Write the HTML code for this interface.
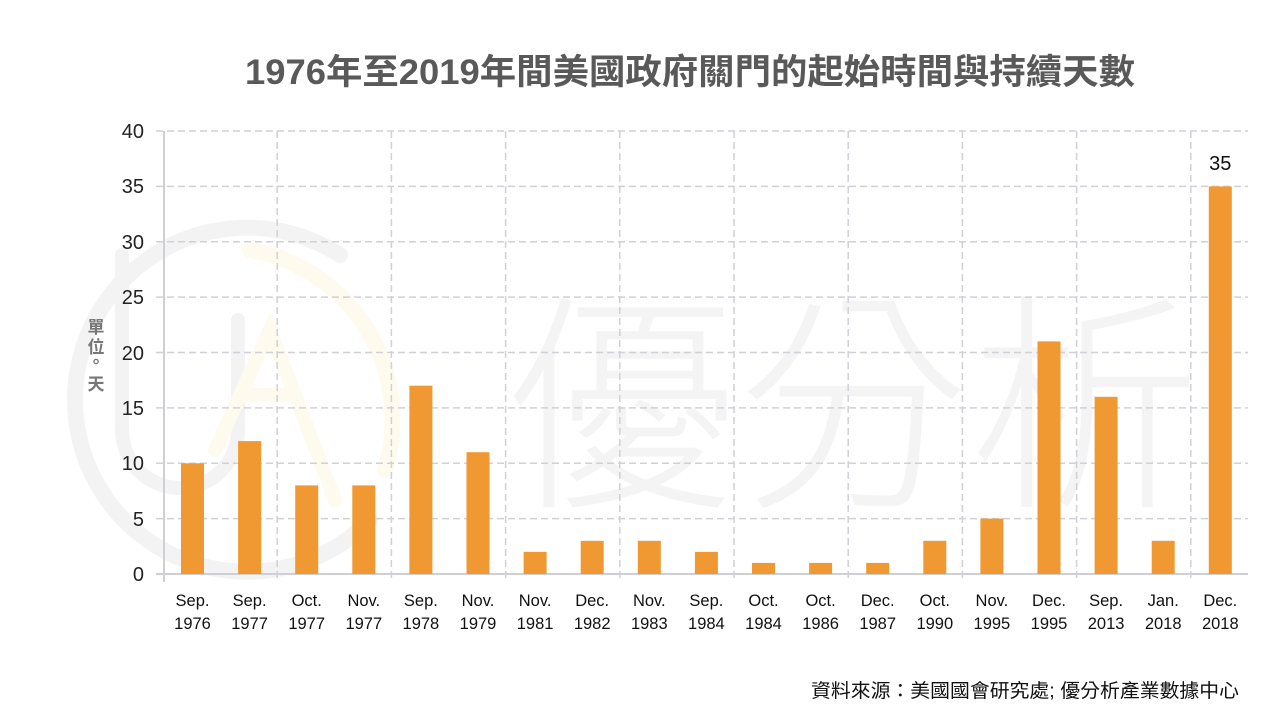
<!DOCTYPE html>
<html><head><meta charset="utf-8"><style>
body{margin:0;background:#fff;}
svg{display:block;font-family:"Liberation Sans","Noto Sans CJK TC",sans-serif;}
</style></head><body>
<svg width="1286" height="716" viewBox="0 0 1286 716" xmlns="http://www.w3.org/2000/svg">
<rect width="1286" height="716" fill="#fff"/>
<g>
<path d="M340 255 A172 172 0 1 0 370 520" fill="none" stroke="#f3f3f3" stroke-width="16" stroke-linecap="round"/>
<path d="M250 250 A172 172 0 0 1 385 470" fill="none" stroke="#fffaee" stroke-width="16" stroke-linecap="round"/>
<path d="M122 255 L122 430 A58 58 0 0 0 238 430 L238 320" fill="none" stroke="#f3f3f3" stroke-width="14" stroke-linecap="round"/>
<path d="M215 450 L270 330 L335 500 M240 395 L290 395" fill="none" stroke="#fffaee" stroke-width="14" stroke-linecap="round"/>
<text x="505" y="490" font-size="232" fill="#f4f4f4" font-family="Noto Sans CJK TC, sans-serif" font-weight="300">優分析</text>
</g>
<text x="690" y="84" text-anchor="middle" font-size="35" font-weight="bold" fill="#595959" textLength="890" lengthAdjust="spacingAndGlyphs" font-family="Liberation Sans, Noto Sans CJK TC, sans-serif">1976年至2019年間美國政府關門的起始時間與持續天數</text>
<g stroke="#d0d0d6" stroke-width="1.5" stroke-dasharray="7,4">
<line x1="156" y1="131" x2="1248" y2="131"/>
<line x1="156" y1="186.4" x2="1248" y2="186.4"/>
<line x1="156" y1="241.8" x2="1248" y2="241.8"/>
<line x1="156" y1="297.1" x2="1248" y2="297.1"/>
<line x1="156" y1="352.5" x2="1248" y2="352.5"/>
<line x1="156" y1="407.9" x2="1248" y2="407.9"/>
<line x1="156" y1="463.3" x2="1248" y2="463.3"/>
<line x1="156" y1="518.6" x2="1248" y2="518.6"/>
<line x1="277.2" y1="131" x2="277.2" y2="582"/>
<line x1="391.4" y1="131" x2="391.4" y2="582"/>
<line x1="505.6" y1="131" x2="505.6" y2="582"/>
<line x1="619.8" y1="131" x2="619.8" y2="582"/>
<line x1="734" y1="131" x2="734" y2="582"/>
<line x1="848.2" y1="131" x2="848.2" y2="582"/>
<line x1="962.4" y1="131" x2="962.4" y2="582"/>
<line x1="1076.6" y1="131" x2="1076.6" y2="582"/>
<line x1="1190.8" y1="131" x2="1190.8" y2="582"/>
</g>
<g stroke="#cfcfd6" stroke-width="2">
<line x1="164" y1="131" x2="164" y2="582"/>
<line x1="156" y1="574" x2="1248" y2="574"/>
</g>
<g fill="#f0962c" fill-opacity="0.97">
<rect x="181" y="463.25" width="23" height="110.75"/>
<rect x="238.1" y="441.1" width="23" height="132.9"/>
<rect x="295.2" y="485.4" width="23" height="88.6"/>
<rect x="352.3" y="485.4" width="23" height="88.6"/>
<rect x="409.4" y="385.7" width="23" height="188.3"/>
<rect x="466.5" y="452.2" width="23" height="121.8"/>
<rect x="523.6" y="551.85" width="23" height="22.15"/>
<rect x="580.7" y="540.8" width="23" height="33.2"/>
<rect x="637.8" y="540.8" width="23" height="33.2"/>
<rect x="694.9" y="551.85" width="23" height="22.15"/>
<rect x="752" y="562.9" width="23" height="11.1"/>
<rect x="809.1" y="562.9" width="23" height="11.1"/>
<rect x="866.2" y="562.9" width="23" height="11.1"/>
<rect x="923.3" y="540.8" width="23" height="33.2"/>
<rect x="980.4" y="518.6" width="23" height="55.4"/>
<rect x="1037.5" y="341.4" width="23" height="232.6"/>
<rect x="1094.6" y="396.8" width="23" height="177.2"/>
<rect x="1151.7" y="540.8" width="23" height="33.2"/>
<rect x="1208.8" y="186.4" width="23" height="387.6"/>
</g>
<text x="1220.3" y="170" text-anchor="middle" font-size="20" fill="#111">35</text>
<g font-size="20" fill="#222" text-anchor="end">
<text x="144" y="138">40</text><text x="144" y="193">35</text><text x="144" y="249">30</text><text x="144" y="304">25</text><text x="144" y="360">20</text><text x="144" y="415">15</text><text x="144" y="470">10</text><text x="144" y="526">5</text><text x="144" y="581">0</text>
</g>
<g font-size="17" fill="#777" font-weight="bold" text-anchor="middle" font-family="Noto Sans CJK TC, sans-serif">
<text x="96" y="333">單</text><text x="96" y="353">位</text><text x="96" y="368">。</text><text x="96" y="390">天</text>
</g>
<g font-size="16.5" fill="#111" text-anchor="middle">
<text x="192.5" y="606">Sep.</text><text x="192.5" y="629">1976</text>
<text x="249.6" y="606">Sep.</text><text x="249.6" y="629">1977</text>
<text x="306.7" y="606">Oct.</text><text x="306.7" y="629">1977</text>
<text x="363.8" y="606">Nov.</text><text x="363.8" y="629">1977</text>
<text x="420.9" y="606">Sep.</text><text x="420.9" y="629">1978</text>
<text x="478" y="606">Nov.</text><text x="478" y="629">1979</text>
<text x="535.1" y="606">Nov.</text><text x="535.1" y="629">1981</text>
<text x="592.2" y="606">Dec.</text><text x="592.2" y="629">1982</text>
<text x="649.3" y="606">Nov.</text><text x="649.3" y="629">1983</text>
<text x="706.4" y="606">Sep.</text><text x="706.4" y="629">1984</text>
<text x="763.5" y="606">Oct.</text><text x="763.5" y="629">1984</text>
<text x="820.6" y="606">Oct.</text><text x="820.6" y="629">1986</text>
<text x="877.7" y="606">Dec.</text><text x="877.7" y="629">1987</text>
<text x="934.8" y="606">Oct.</text><text x="934.8" y="629">1990</text>
<text x="991.9" y="606">Nov.</text><text x="991.9" y="629">1995</text>
<text x="1049" y="606">Dec.</text><text x="1049" y="629">1995</text>
<text x="1106.1" y="606">Sep.</text><text x="1106.1" y="629">2013</text>
<text x="1163.2" y="606">Jan.</text><text x="1163.2" y="629">2018</text>
<text x="1220.3" y="606">Dec.</text><text x="1220.3" y="629">2018</text>
</g>
<text x="1239" y="697" text-anchor="end" font-size="19" fill="#111" textLength="428" lengthAdjust="spacingAndGlyphs" font-family="Liberation Sans, Noto Sans CJK TC, sans-serif">資料來源：美國國會研究處; 優分析產業數據中心</text>
</svg>
</body></html>
